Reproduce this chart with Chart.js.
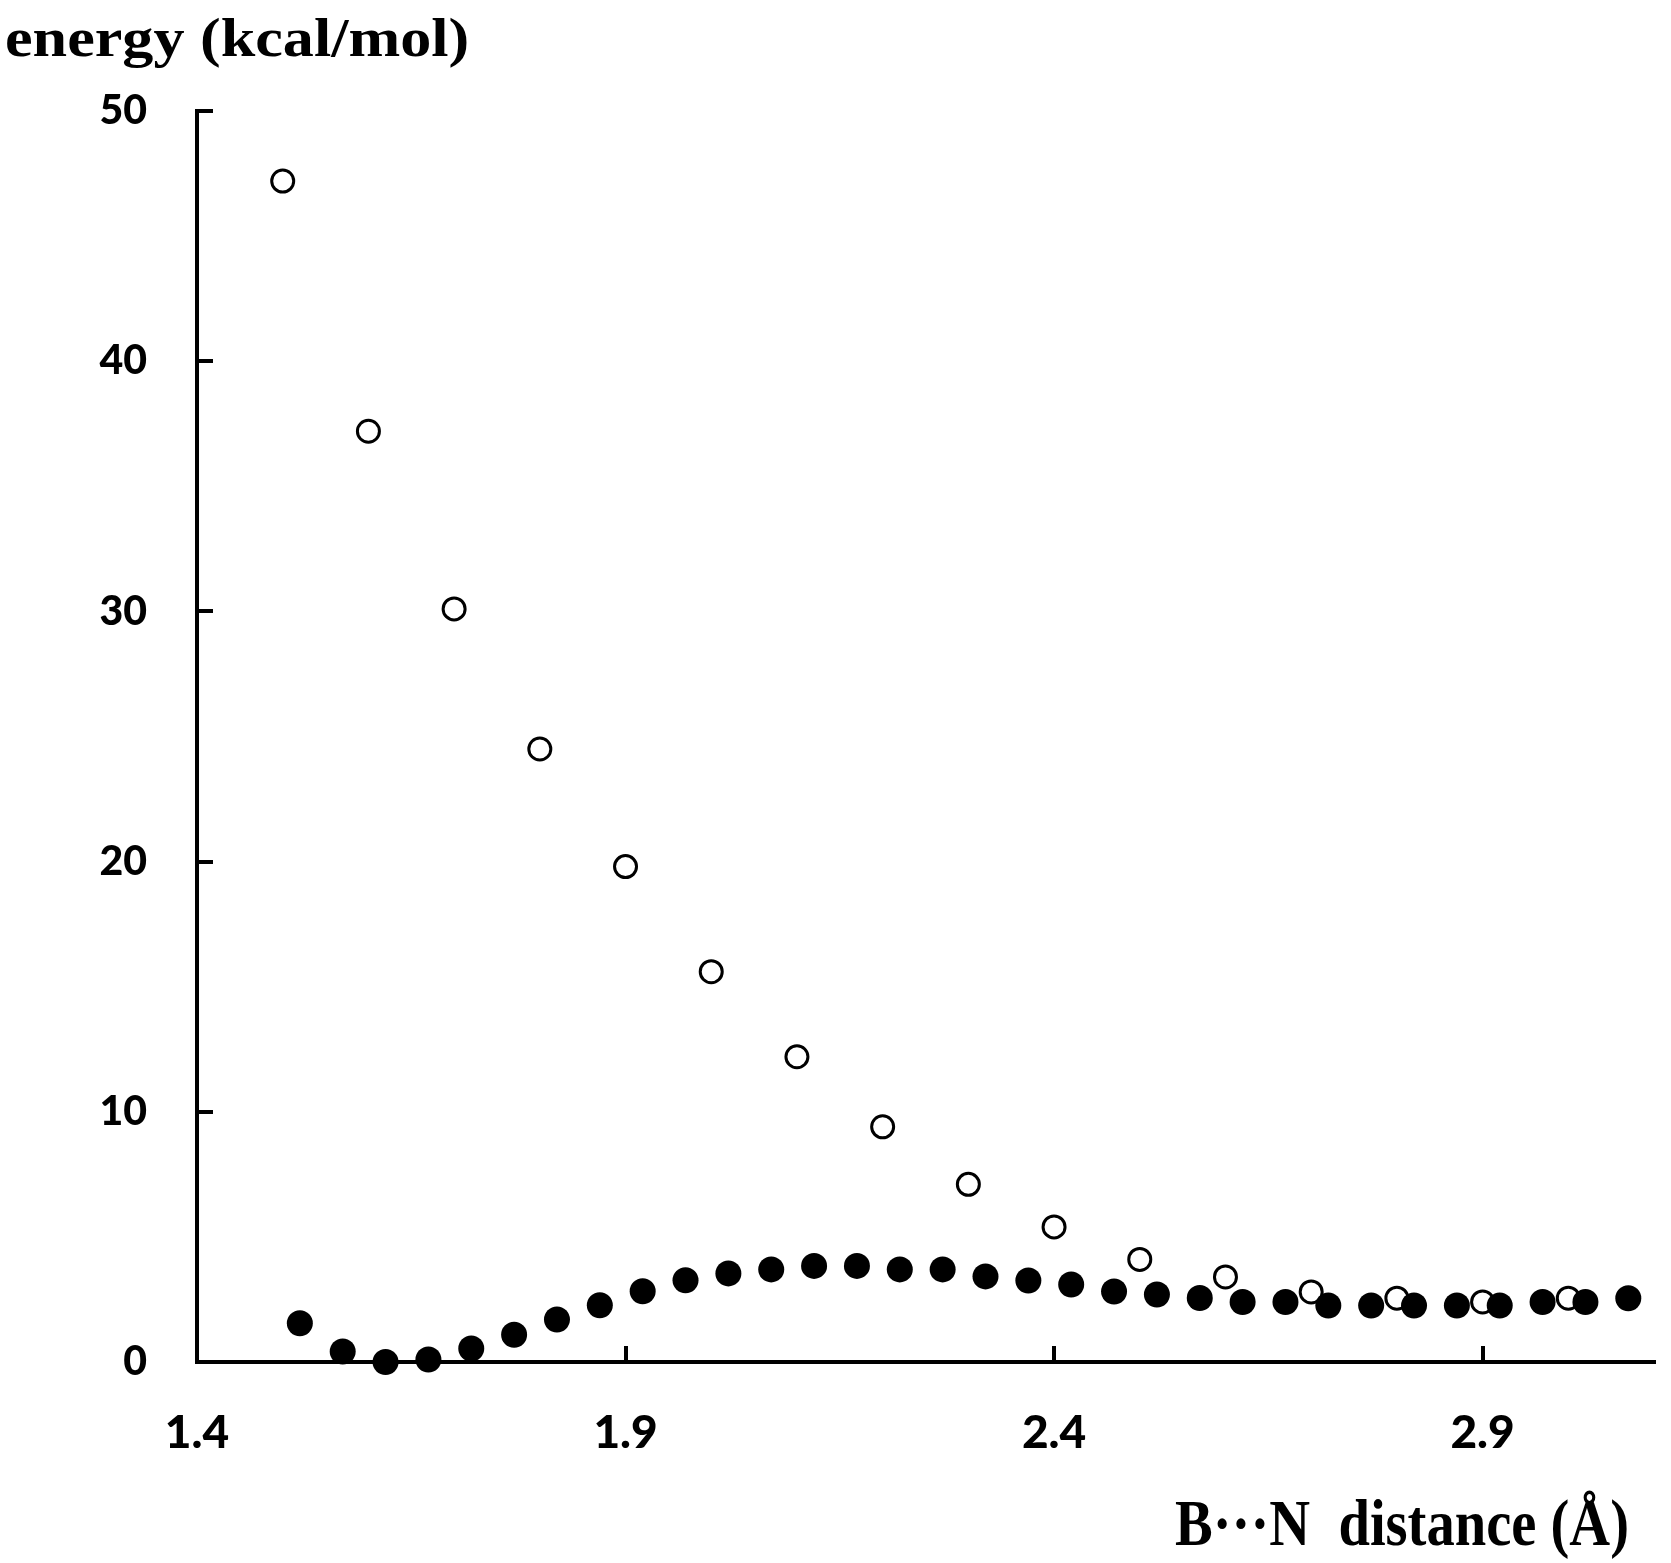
<!DOCTYPE html>
<html>
<head>
<meta charset="utf-8">
<script src="https://cdn.jsdelivr.net/npm/chart.js@4/dist/chart.umd.min.js"></script>
<style>
  html, body { margin: 0; padding: 0; background: #ffffff; }
  #wrap { width: 1671px; height: 1563px; }
</style>
</head>
<body>
<div id="wrap"><canvas id="c" width="1671" height="1563"></canvas></div>
<script>
// ---- data ----
const openX = [1.5, 1.6, 1.7, 1.8, 1.9, 2.0, 2.1, 2.2, 2.3, 2.4, 2.5, 2.6, 2.7, 2.8, 2.9, 3.0];
const openY = [47.2, 37.2, 30.1, 24.5, 19.8, 15.6, 12.2, 9.4, 7.1, 5.4, 4.1, 3.4, 2.8, 2.55, 2.4, 2.55];

const filledX = [1.52, 1.57, 1.62, 1.67, 1.72, 1.77, 1.82, 1.87, 1.92, 1.97, 2.02, 2.07, 2.12, 2.17, 2.22, 2.27,
                 2.32, 2.37, 2.42, 2.47, 2.52, 2.57, 2.62, 2.67, 2.72, 2.77, 2.82, 2.87, 2.92, 2.97, 3.02, 3.07];
const filledY = [1.55, 0.42, 0.0, 0.1, 0.54, 1.09, 1.7, 2.27, 2.83, 3.27, 3.54, 3.7, 3.84, 3.84, 3.7, 3.7,
                 3.42, 3.26, 3.1, 2.82, 2.7, 2.56, 2.4, 2.4, 2.26, 2.26, 2.26, 2.26, 2.26, 2.4, 2.4, 2.55];

const xTickValues = [1.4, 1.9, 2.4, 2.9];
const yTickValues = [0, 10, 20, 30, 40, 50];
const xRange = [1.4, 3.1];
const yRange = [0, 50];

const yTitle = 'energy (kcal/mol)';
const xTitle = 'B\u00B7\u00B7\u00B7N  distance (\u00C5)';

// ---- helpers ----
const toPoints = (xs, ys) => xs.map((x, i) => ({ x: x, y: ys[i] }));

const axisTitles = {
  id: 'axisTitles',
  afterDraw(chart) {
    const ctx = chart.ctx;
    const area = chart.chartArea;
    ctx.save();
    ctx.fillStyle = '#000000';
    ctx.font = 'bold 55px "Liberation Serif"';
    ctx.textAlign = 'left';
    ctx.textBaseline = 'alphabetic';
    ctx.translate(5, area.top - 55);
    ctx.scale(1.13, 1);
    ctx.fillText(yTitle, 0, 0);
    ctx.restore();

    ctx.save();
    ctx.fillStyle = '#000000';
    ctx.font = 'bold 65px "Liberation Serif"';
    ctx.textAlign = 'right';
    ctx.textBaseline = 'alphabetic';
    ctx.translate(area.right - 25, area.bottom + 183);
    ctx.scale(0.87, 1);
    ctx.fillText(xTitle, 0, 0);
    ctx.restore();
  }
};

const axisGrid = {
  display: true,
  drawOnChartArea: false,
  drawTicks: true,
  tickLength: -16,
  tickWidth: 4,
  tickColor: '#000000',
  color: '#000000',
  lineWidth: 4
};
const axisBorder = { display: true, color: '#000000', width: 4 };

new Chart(document.getElementById('c'), {
  type: 'scatter',
  data: {
    datasets: [
      {
        label: 'filled',
        data: toPoints(filledX, filledY),
        pointRadius: 13,
        pointBackgroundColor: '#000000',
        pointBorderWidth: 0,
        pointBorderColor: '#000000',
        showLine: false,
        clip: false
      },
      {
        label: 'open',
        data: toPoints(openX, openY),
        pointRadius: 11,
        pointBackgroundColor: '#ffffff',
        pointBorderWidth: 3,
        pointBorderColor: '#000000',
        showLine: false,
        clip: false
      }
    ]
  },
  options: {
    responsive: false,
    animation: false,
    devicePixelRatio: 1,
    events: [],
    layout: { padding: { top: 111, right: 17, bottom: 0, left: 0 } },
    plugins: {
      legend: { display: false },
      tooltip: { enabled: false },
      title: { display: false }
    },
    scales: {
      x: {
        type: 'linear',
        position: 'bottom',
        min: xRange[0],
        max: xRange[1],
        afterBuildTicks: s => { s.ticks = xTickValues.map(v => ({ value: v })); },
        afterFit: s => { s.height = 201; },
        border: axisBorder,
        grid: axisGrid,
        ticks: {
          color: '#000000',
          font: { family: 'Lato', size: 46, weight: '900' },
          padding: 60,
          maxRotation: 0,
          autoSkip: false,
          callback: v => Number(v).toFixed(1)
        }
      },
      y: {
        type: 'linear',
        position: 'left',
        min: yRange[0],
        max: yRange[1],
        afterBuildTicks: s => { s.ticks = yTickValues.map(v => ({ value: v })); },
        afterFit: s => { s.width = 197; },
        border: axisBorder,
        grid: axisGrid,
        ticks: {
          color: '#000000',
          font: { family: 'Lato', size: 41, weight: '900' },
          padding: 66,
          autoSkip: false,
          callback: v => String(v)
        }
      }
    }
  },
  plugins: [axisTitles]
});
</script>
</body>
</html>
